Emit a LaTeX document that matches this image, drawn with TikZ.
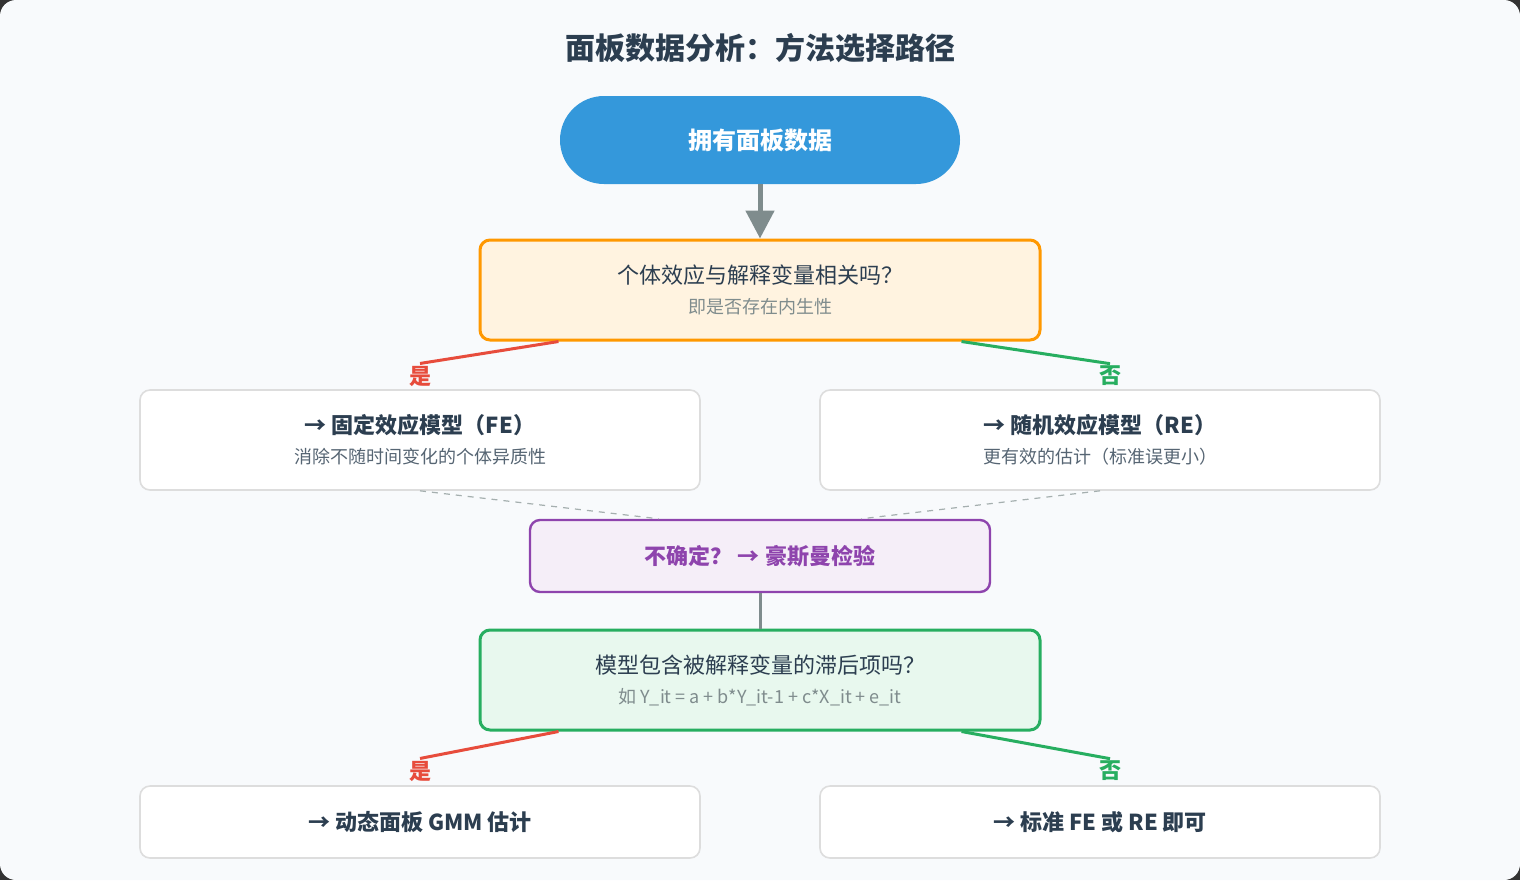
\documentclass[tikz,border=0pt]{standalone}
\usepackage{fontspec}
\setmainfont{Noto Sans CJK SC}
\usetikzlibrary{calc,arrows.meta}
\definecolor{page color}{HTML}{F8FAFC}
\definecolor{ink}{HTML}{2C3E50}
\definecolor{muted}{HTML}{7F8C8D}
\definecolor{start blue}{HTML}{3498DB}
\definecolor{ask orange}{HTML}{FF9800}
\definecolor{ask orange bg}{HTML}{FFF3E0}
\definecolor{test purple}{HTML}{8E44AD}
\definecolor{test purple bg}{HTML}{F5EEF8}
\definecolor{ask green}{HTML}{27AE60}
\definecolor{ask green bg}{HTML}{E8F8EE}
\definecolor{yes red}{HTML}{E74C3C}
\definecolor{box line}{HTML}{DDDDDD}
\newcommand{\subline}[2]{{\fontsize{9}{12}\selectfont\mdseries\color{#1}#2}}
\tikzset{
    x={0.5pt},
    y={-0.5pt},
    question/.style 2 args={
        draw={#1}, fill={#2},
        line width={1.5pt},
        rounded corners={5pt},
        minimum width={280pt},
        minimum height={50pt},
        align=center,
        font={\fontsize{11}{16}\selectfont},
        text=ink,
    },
    outcome/.style={
        draw=box line, fill=white,
        line width={0.8pt},
        rounded corners={5pt},
        minimum width={280pt},
        align=center,
        font={\fontsize{11}{16}\selectfont\bfseries},
        text=ink,
    },
    answer/.style={
        font={\fontsize{11}{12}\selectfont\bfseries},
        text={#1},
        inner sep=1pt,
    },
    choice/.style={
        draw={#1},
        line width={1.5pt},
    },
    hint/.style={
        draw=muted!70, dashed,
        line width={0.6pt},
    },
}
\begin{document}
\begin{tikzpicture}
% background
\fill[black!80] (0,0) rectangle (1520,880);
\fill[page color, rounded corners={8pt}] (0,0) rectangle (1520,880);
\useasboundingbox (0,0) rectangle (1520,880);
\node[font={\fontsize{15}{18}\selectfont\bfseries}, text=ink] (title) at (760,48) {面板数据分析：方法选择路径};
% nodes
\node[fill=start blue, rounded corners={22pt}, minimum width={200pt}, minimum height={44pt},
    font={\fontsize{12}{14}\selectfont\bfseries}, text=white] (start) at (760,140) {拥有面板数据};
\node[question={ask orange}{ask orange bg}] (q1) at (760,290)
    {个体效应与解释变量相关吗？\\[-1pt]\subline{muted}{即是否存在内生性}};
\node[outcome, minimum height={50pt}] (fe) at (420,440)
    {→ 固定效应模型（FE）\\[-1pt]\subline{ink!80}{消除不随时间变化的个体异质性}};
\node[outcome, minimum height={50pt}] (re) at (1100,440)
    {→ 随机效应模型（RE）\\[-1pt]\subline{ink!80}{更有效的估计（标准误更小）}};
\node[draw=test purple, fill=test purple bg, line width={1.2pt}, rounded corners={5pt},
    minimum width={230pt}, minimum height={36pt},
    font={\fontsize{11}{14}\selectfont\bfseries}, text=test purple] (hausman) at (760,556) {不确定？ → 豪斯曼检验};
\node[question={ask green}{ask green bg}] (q2) at (760,680)
    {模型包含被解释变量的滞后项吗？\\[-1pt]\subline{muted}{如 Y\_it = a + b*Y\_it-1 + c*X\_it + e\_it}};
\node[outcome, minimum height={36pt}] (gmm) at (420,822) {→ 动态面板 GMM 估计};
\node[outcome, minimum height={36pt}] (std) at (1100,822) {→ 标准 FE 或 RE 即可};
% answer labels
\node[answer=yes red] (yes1) at (420,376) {是};
\node[answer=ask green] (no1) at (1110,376) {否};
\node[answer=yes red] (yes2) at (420,771) {是};
\node[answer=ask green] (no2) at (1110,771) {否};
% connectors
\draw[draw=muted, line width={2.5pt}, -{Triangle[length=14pt, width=14pt]}] (start) -- (q1);
\draw[choice=yes red] ($(q1.south west)+(80,0)$) -- (yes1.north);
\draw[choice=ask green] ($(q1.south east)+(-80,0)$) -- (no1.north);
\draw[choice=yes red] ($(q2.south west)+(80,0)$) -- (yes2.north);
\draw[choice=ask green] ($(q2.south east)+(-80,0)$) -- (no2.north);
\draw[hint] (fe.south) -- ($(hausman.north west)+(130,0)$);
\draw[hint] (re.south) -- ($(hausman.north east)+(-130,0)$);
\draw[draw=muted, line width={1.5pt}] (hausman) -- (q2);
\end{tikzpicture}
\end{document}
